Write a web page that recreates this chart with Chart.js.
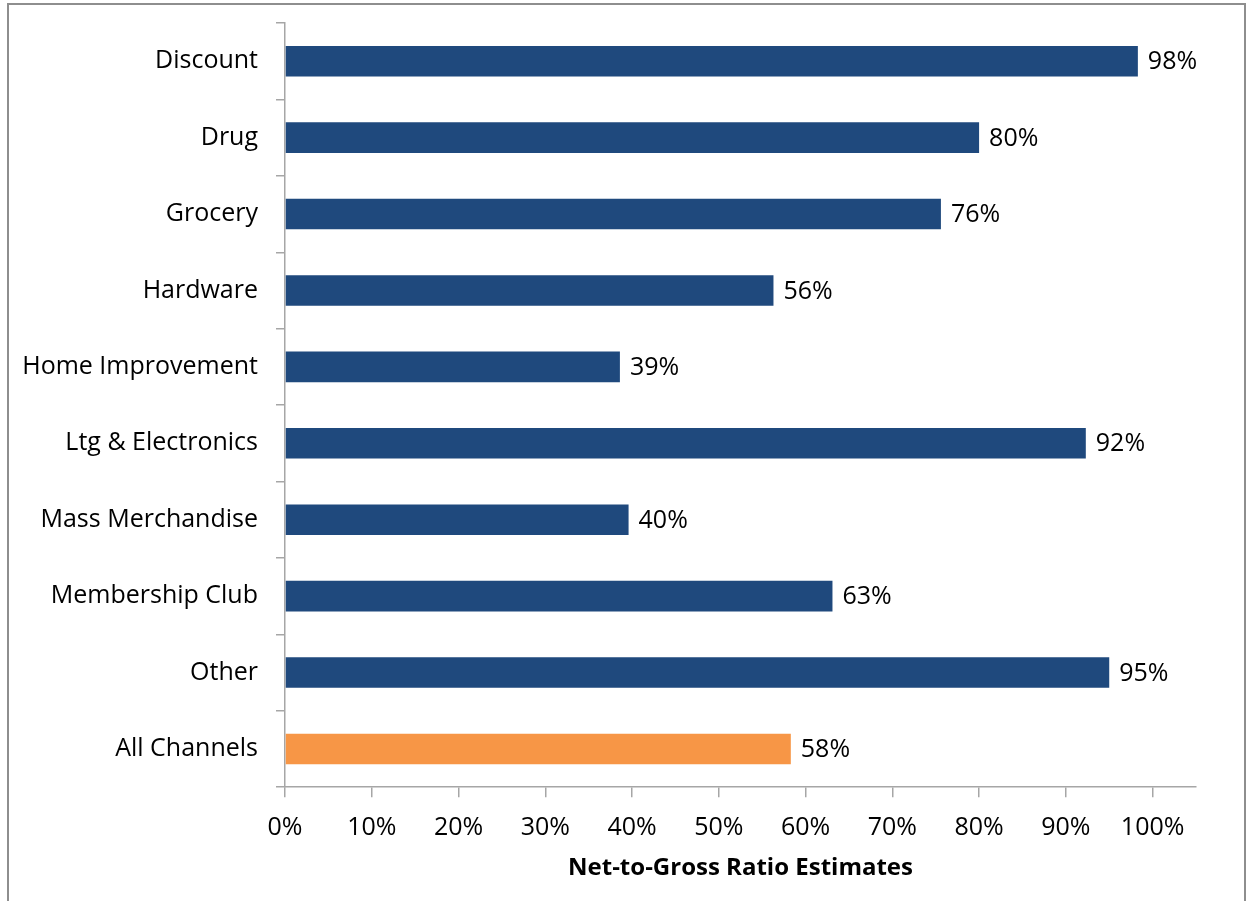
<!DOCTYPE html>
<html>
<head>
<meta charset="utf-8">
<script src="https://cdn.jsdelivr.net/npm/chart.js@4.4.1/dist/chart.umd.min.js"></script>
<style>
  html, body { margin: 0; padding: 0; background: #fff; overflow: hidden; }
  #wrap { position: absolute; left: 0; top: 0; width: 1249px; height: 901px; }
  #frame { position: absolute; left: 7px; top: 3px; width: 1239px; height: 920px; border: 2px solid #8e8e8e; box-sizing: border-box; pointer-events: none; }
</style>
</head>
<body>
<div id="wrap"><canvas id="c" width="1249" height="901"></canvas></div>
<div id="frame"></div>
<script>
const categories = ["Discount", "Drug", "Grocery", "Hardware", "Home Improvement", "Ltg & Electronics", "Mass Merchandise", "Membership Club", "Other", "All Channels"];
const values = [0.983, 0.800, 0.756, 0.563, 0.386, 0.923, 0.396, 0.631, 0.950, 0.583];
const valueLabels = ["98%", "80%", "76%", "56%", "39%", "92%", "40%", "63%", "95%", "58%"];
const barColors = ["#1F497D", "#1F497D", "#1F497D", "#1F497D", "#1F497D", "#1F497D", "#1F497D", "#1F497D", "#1F497D", "#F79646"];
const axisTitle = "Net-to-Gross Ratio Estimates";

const FONT = "'Open Sans', Lato, sans-serif";
const FS = 25;

const labelPlugin = {
  id: 'barLabels',
  afterDatasetsDraw(chart) {
    const ctx = chart.ctx;
    const meta = chart.getDatasetMeta(0);
    ctx.save();
    ctx.font = FS + "px " + FONT;
    ctx.fillStyle = "#000";
    ctx.textAlign = "left";
    ctx.textBaseline = "middle";
    meta.data.forEach((bar, i) => {
      ctx.fillText(valueLabels[i], bar.x + 10, bar.y + 1);
    });
    ctx.restore();
  }
};

new Chart(document.getElementById('c'), {
  type: 'bar',
  data: {
    labels: categories,
    datasets: [{
      data: values,
      backgroundColor: barColors,
      borderWidth: 0,
      barPercentage: 0.4,
      categoryPercentage: 1.0
    }]
  },
  options: {
    indexAxis: 'y',
    responsive: false,
    animation: false,
    devicePixelRatio: 1,
    layout: { padding: { left: 10, top: 23, right: 53, bottom: 18 } },
    plugins: { legend: { display: false }, tooltip: { enabled: false }, title: { display: false } },
    scales: {
      x: {
        min: 0,
        max: 1.05,
        afterBuildTicks(scale) {
          const t = [];
          for (let i = 0; i <= 10; i++) t.push({ value: i / 10 });
          scale.ticks = t;
        },
        afterFit(scale) { scale.paddingLeft = 0; scale.paddingRight = 0; },
        ticks: {
          callback: v => Math.round(v * 100) + "%",
          color: "#000",
          font: { size: FS, family: FONT },
          padding: 16,
          maxRotation: 0,
          autoSkip: false
        },
        grid: { drawOnChartArea: false, drawTicks: true, tickLength: 10, color: "#a6a6a6", lineWidth: 1.5 },
        border: { color: "#a6a6a6", width: 1.5 },
        title: {
          display: true,
          text: axisTitle,
          color: "#000",
          font: { size: 24, weight: 'bold', family: FONT },
          padding: { top: -5, bottom: 0 }
        }
      },
      y: {
        afterFit(scale) { scale.width = 275; scale.paddingTop = 0; scale.paddingBottom = 0; },
        ticks: {
          color: "#000",
          font: { size: FS, family: FONT },
          padding: 18,
          autoSkip: false
        },
        grid: { drawOnChartArea: false, drawTicks: true, tickLength: 9, color: "#a6a6a6", lineWidth: 1.5, offset: true },
        border: { color: "#a6a6a6", width: 1.5 }
      }
    }
  },
  plugins: [labelPlugin]
});
</script>
</body>
</html>
